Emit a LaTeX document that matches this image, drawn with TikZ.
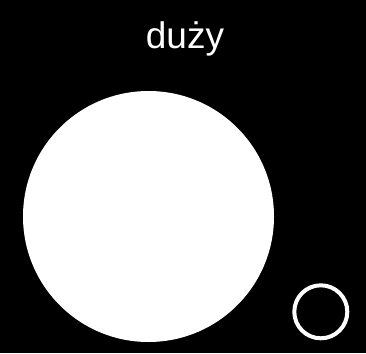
\documentclass[tikz,border=0pt]{standalone}
\usepackage{fontspec}
\setmainfont{Liberation Sans}
\begin{document}
\begin{tikzpicture}[x=1pt,y=-1pt,
  lbl/.style={text=white,font=\fontsize{37}{40}\selectfont,inner sep=0pt,anchor=base},
  bigdisc/.style={fill=white,draw=none},
  ring/.style={draw=white,line width=4pt,fill=none}]
\fill[black] (0,0) rectangle (366,353);
\useasboundingbox (0,0) rectangle (366,353);
\node[lbl] (title) at (185,48.3) {duży};
\path[bigdisc] (148.5,216.5) circle[radius=125.5];
\path[ring] (320.8,311.8) circle[radius=26.5];
\end{tikzpicture}
\end{document}
